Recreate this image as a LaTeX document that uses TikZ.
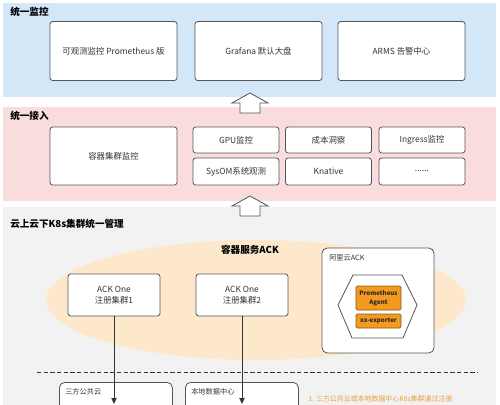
\documentclass[tikz,border=0pt]{standalone}
\usepackage{fontspec}
\setmainfont{Noto Sans CJK SC}
\usetikzlibrary{arrows.meta}
\definecolor{bandblue}{HTML}{D3E7F8}
\definecolor{bandpink}{HTML}{F9DCDC}
\definecolor{bandgrey}{HTML}{F2F2F2}
\definecolor{peach}{HTML}{FDE8CC}
\definecolor{boxc}{HTML}{555555}
\definecolor{txt}{HTML}{333333}
\definecolor{orfill}{HTML}{F39A1F}
\definecolor{ordraw}{HTML}{8A5A1A}
\definecolor{ortext}{HTML}{E8A040}
\tikzset{
  sz/.style 2 args={minimum width=#1*0.75pt, minimum height=#2*0.75pt},
  box/.style={draw=boxc, fill=white, rounded corners=2pt, line width=0.6pt, inner sep=0pt,
              text=txt, font=\fontsize{6.3}{8.5}\selectfont, align=center},
  obox/.style={draw=ordraw, fill=orfill, rounded corners=1pt, line width=0.5pt, inner sep=0pt,
              text=black!85, font=\fontsize{4.6}{7}\selectfont\bfseries, align=center},
  title/.style={anchor=west, inner sep=0pt, text=black, font=\fontsize{7.2}{8}\selectfont\bfseries},
  small/.style={anchor=west, inner sep=0pt, text=txt, font=\fontsize{5.4}{7}\selectfont},
  barrow/.style={draw=boxc, fill=white, line width=0.6pt, line join=miter},
  conn/.style={draw=txt, line width=0.6pt, -{Triangle[length=4.5pt,width=4pt]}},
}
\begin{document}
\begin{tikzpicture}[x=0.75pt,y=-0.75pt]
\useasboundingbox (0,0) rectangle (500,404);
\clip (0,0) rectangle (500,404);
\fill[white] (0,0) rectangle (500,404);
% bands
\fill[bandblue] (3,3) rectangle (496,97);
\fill[bandpink] (3,107) rectangle (496,201);
\fill[bandgrey] (3,207) rectangle (496,410);
% titles
\node[title] (t1) at (10,12) {统一监控};
\node[title] (t2) at (10,116) {统一接入};
\node[title] (t3) at (10,224) {云上云下K8s集群统一管理};
% top boxes
\node[box, sz={127}{59}] (m1) at (113.5,51) {可观测监控 Prometheus 版};
\node[box, sz={127}{59}] (m2) at (258.5,51) {Grafana 默认大盘};
\node[box, sz={127}{59}] (m3) at (401.5,51) {ARMS 告警中心};
% block arrows
\draw[barrow] (250,93) -- (268,103) -- (260,103) -- (260,113) -- (240,113) -- (240,103) -- (232,103) -- cycle;
\draw[barrow] (250,196) -- (268,206) -- (260,206) -- (260,216) -- (240,216) -- (240,206) -- (232,206) -- cycle;
% middle boxes
\node[box, sz={127}{58}] (c0) at (113.5,156) {容器集群监控};
\node[box, sz={86}{26}] (c1) at (236,140) {GPU监控};
\node[box, sz={86}{26}] (c2) at (328.5,140) {成本洞察};
\node[box, sz={86}{26}] (c3) at (422,140) {Ingress监控};
\node[box, sz={86}{27}] (c4) at (236,171.5) {SysOM系统观测};
\node[box, sz={86}{27}] (c5) at (328.5,171.5) {Knative};
\node[box, sz={86}{27}] (c6) at (422,171.5) {......};
% ellipse
\fill[peach] (256,300) ellipse [x radius=210, y radius=60];
\node[title, anchor=center] (ack) at (250,250) {容器服务ACK};
% ACK One boxes
\node[box, sz={92}{42}] (a1) at (114,295) {ACK One\\注册集群1};
\node[box, sz={92}{42}] (a2) at (242,295) {ACK One\\注册集群2};
% Aliyun ACK
\node[box, sz={112}{105}, rounded corners=4pt] (ali) at (378,300.5) {};
\node[small] (alit) at (329,258) {阿里云ACK};
\draw[draw=boxc, fill=white, line width=0.6pt] (338,305) -- (353,275) -- (402,275) -- (417,305) -- (403,338) -- (352,338) -- cycle;
\node[obox, sz={45}{24}] (pa) at (378.5,298) {Prometheus\\Agent};
\node[obox, sz={45}{14}] (xe) at (378.5,321) {xx-exporter};
% dashed line
\draw[draw=txt, line width=0.6pt, dash pattern=on 3.2pt off 1.8pt] (37,372) -- (478,372);
% bottom boxes
\node[box, sz={113}{50}, anchor=north west, rounded corners=4pt] (b1) at (59,382) {};
\node[box, sz={113}{50}, anchor=north west, rounded corners=4pt] (b2) at (185,382) {};
\node[small] (b1t) at (65,392) {三方公共云};
\node[small] (b2t) at (191,392) {本地数据中心};
% connectors
\coordinate (e1) at (114,404);
\coordinate (e2) at (242,404);
\draw[conn] (a1.south) -- (e1);
\draw[conn] (a2.south) -- (e2);
% note
\node[anchor=west, inner sep=0pt, text=ortext, font=\fontsize{5.2}{7}\selectfont] (note) at (308,399) {1. 三方公共云或本地数据中心K8s集群通过注册};
\end{tikzpicture}
\end{document}
